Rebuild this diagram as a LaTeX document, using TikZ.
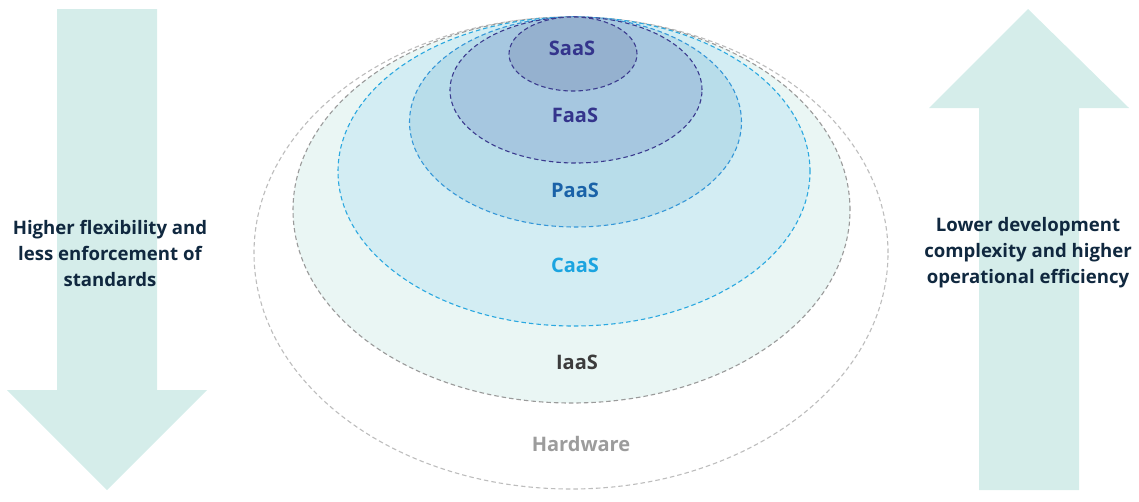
\documentclass[tikz,border=0pt]{standalone}
\usepackage{fontspec}
\setmainfont{Open Sans}
\definecolor{arrowfill}{HTML}{D5EDEA}
\definecolor{hwline}{HTML}{BDBDBD}
\definecolor{hwtext}{HTML}{9C9C9C}
\definecolor{iafill}{HTML}{EAF6F4}
\definecolor{ialine}{HTML}{9A9A9A}
\definecolor{iatext}{HTML}{3C3C3C}
\definecolor{cafill}{HTML}{D3EDF3}
\definecolor{caline}{HTML}{2AA8E0}
\definecolor{catext}{HTML}{1BA4E0}
\definecolor{pafill}{HTML}{B8DDEA}
\definecolor{paline}{HTML}{3597D8}
\definecolor{patext}{HTML}{1A62A8}
\definecolor{fafill}{HTML}{A6C7E0}
\definecolor{faline}{HTML}{3B3B8E}
\definecolor{fatext}{HTML}{34348C}
\definecolor{safill}{HTML}{95B1CF}
\definecolor{sidetext}{HTML}{10283F}
\tikzset{
  layer/.style={dash pattern=on 4.5pt off 3pt, line width=1.1pt},
  lbl/.style={font=\fontsize{20}{22}\selectfont\bfseries, inner sep=0pt},
  side/.style={font=\fontsize{18.6}{26}\selectfont\bfseries, text=sidetext, align=center, inner sep=0pt},
}
\begin{document}
\begin{tikzpicture}[x=1pt,y=-1pt]
\useasboundingbox (0,0) rectangle (1139,501);
% arrows
\fill[arrowfill] (57,9) -- (157,9) -- (157,390) -- (207,390) -- (107,490) -- (7,390) -- (57,390) -- cycle;
\fill[arrowfill] (979,490) -- (1079,490) -- (1079,108) -- (1129,108) -- (1028,9) -- (929,108) -- (979,108) -- cycle;
% ellipses
\draw[layer, draw=hwline, fill=white] (571,253) ellipse [x radius=317pt, y radius=236pt];
\draw[layer, draw=ialine, fill=iafill] (571.5,210) ellipse [x radius=278.5pt, y radius=193pt];
\draw[layer, draw=caline, fill=cafill] (574,171.5) ellipse [x radius=236pt, y radius=154.5pt];
\draw[layer, draw=paline, fill=pafill] (575.5,122) ellipse [x radius=166pt, y radius=105pt];
\draw[layer, draw=faline, fill=fafill] (576,90) ellipse [x radius=126pt, y radius=73pt];
\draw[layer, draw=faline, fill=safill] (573,54) ellipse [x radius=64pt, y radius=37pt];
% labels
\node[lbl, text=fatext] (saas) at (572,48) {SaaS};
\node[lbl, text=fatext] (faas) at (575,115) {FaaS};
\node[lbl, text=patext] (paas) at (575,190) {PaaS};
\node[lbl, text=catext] (caas) at (575,265) {CaaS};
\node[lbl, text=iatext] (iaas) at (577,362) {IaaS};
\node[lbl, text=hwtext] (hw) at (581,444) {Hardware};
\node[side] (left) at (110,253) {Higher flexibility and\\less enforcement of\\standards};
\node[side] (right) at (1028,253) {Lower development\\complexity and higher\\operational efficiency};
\end{tikzpicture}
\end{document}
